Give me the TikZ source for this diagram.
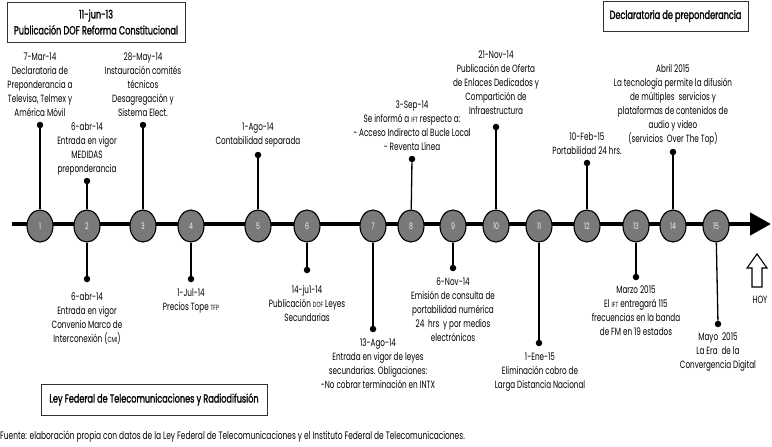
\documentclass[tikz,border=0pt]{standalone}
\usepackage{fontspec}
\setmainfont{Poppins}[FakeStretch=0.69]
\newfontfamily\boxfont{Poppins}[FakeStretch=0.69,FakeBold=1.2]
\usetikzlibrary{arrows.meta,shapes.geometric}
\newcommand{\sm}[1]{{\fontsize{7.5}{9}\selectfont #1}}
\tikzset{
  lbl/.style={font=\fontsize{10.5}{14}\selectfont, align=center, inner sep=0pt},
  circ/.style={ellipse, draw=black, line width=1.1pt, fill=gray!95!black, minimum width=26pt, minimum height=32pt, inner sep=0pt, text=white!90!gray, font=\fontsize{9}{10}\selectfont},
  vline/.style={line width=1.3pt},
  dotnode/.style={circle, fill=black, inner sep=0pt, minimum size=6.5pt},
  titlebox/.style={draw=black!80, line width=0.9pt, inner sep=0pt, align=center, font=\boxfont\fontsize{11.8}{16}\selectfont},
}
\begin{document}
\begin{tikzpicture}[x=1pt,y=-1pt]
\useasboundingbox (0,0) rectangle (772,447);
% boxes
\node[titlebox, minimum width=178pt, minimum height=40pt] (b1) at (96,22) {11-jun-13\\Publicación DOF Reforma Constitucional};
\node[titlebox, minimum width=145pt, minimum height=30pt] (b2) at (675.5,16) {Declaratoria de preponderancia};
\node[titlebox, minimum width=226pt, minimum height=31pt] (b3) at (154,399.5) {Ley Federal de Telecomunicaciones y Radiodifusión};
% timeline
\coordinate (tl0) at (12,224);
\coordinate (tl1) at (771,224);
\draw[line width=4.5pt, -{Triangle[length=21pt,width=22pt]}] (tl0) -- (tl1);
% circles
\foreach \n/\x in {1/40,2/87,3/143,4/191,5/258,6/307,7/373,8/411,9/453,10/496,11/539,12/587,13/636,14/673,15/716}
  \node[circ] (c\n) at (\x,226) {\n};
% top items
\node[dotnode] (t1) at (40,125) {};
\node[dotnode] (t2) at (87,181) {};
\node[dotnode] (t3) at (143,125) {};
\node[dotnode] (t5) at (258,155) {};
\node[dotnode] (t8) at (412,159) {};
\node[dotnode] (t10) at (496,127) {};
\node[dotnode] (t12) at (587,163) {};
\node[dotnode] (t14) at (673,152) {};
\foreach \n in {1,2,3,5,8,10,12,14} \draw[vline] (t\n) -- (c\n);
\node[lbl, anchor=north] (l1) at (40,53) {7-Mar-14\\Declaratoria de\\Preponderancia a\\Televisa, Telmex y\\América Móvil};
\node[lbl, anchor=north] (l2) at (87,123) {6-abr-14\\Entrada en vigor\\MEDIDAS\\preponderancia};
\node[lbl, anchor=north] (l3) at (143,53) {28-May-14\\Instauración comités\\técnicos\\Desagregación y\\Sistema Elect.};
\node[lbl, anchor=north] (l5) at (258,123) {1-Ago-14\\Contabilidad separada};
\node[lbl, anchor=north] (l8) at (412,101) {3-Sep-14\\Se informó a \sm{IFT} respecto a:\\- Acceso Indirecto al Bucle Local\\- Reventa Línea};
\node[lbl, anchor=north] (l10) at (496,51) {21-Nov-14\\Publicación de Oferta\\de Enlaces Dedicados y\\Compartición de\\Infraestructura};
\node[lbl, anchor=north] (l12) at (587,133) {10-Feb-15\\Portabilidad 24 hrs.};
\node[lbl, anchor=north] (l14) at (673,64) {Abril 2015\\La tecnología permite la difusión\\de múltiples\ \ servicios y\\plataformas de contenidos de\\audio y video\\(servicios\ \ Over The Top)};
% bottom items
\node[dotnode] (u2) at (87,279) {};
\node[dotnode] (u4) at (191,279) {};
\node[dotnode] (u6) at (307,270) {};
\node[dotnode] (u7) at (373,329) {};
\node[dotnode] (u9) at (453,268) {};
\node[dotnode] (u11) at (539,343) {};
\node[dotnode] (u13) at (636,277) {};
\node[dotnode] (u15) at (718,324) {};
\foreach \n in {2,4,6,7,9,11,13,15} \draw[vline] (c\n) -- (u\n);
\node[lbl, anchor=north] (m2) at (87,293) {6-abr-14\\Entrada en vigor\\Convenio Marco de\\Interconexión (\sm{CMI})};
\node[lbl, anchor=north] (m4) at (191,289) {1-Jul-14\\Precios Tope \sm{TFP}};
\node[lbl, anchor=north] (m6) at (307,285) {14-ju1-14\\Publicación \sm{DOF} Leyes\\Secundarias};
\node[lbl, anchor=north] (m7) at (378,339) {13-Ago-14\\Entrada en vigor de leyes\\secundarias. Obligaciones:\\-No cobrar terminación en INTX};
\node[lbl, anchor=north] (m9) at (453,278) {6-Nov-14\\Emisión de consulta de\\portabilidad numérica\\24\ \ hrs\ \ y por medios\\electrónicos};
\node[lbl, anchor=north] (m11) at (540,353) {1-Ene-15\\Eliminación cobro de\\Larga Distancia Nacional};
\node[lbl, anchor=north] (m13) at (636,286) {Marzo 2015\\El \sm{IFT} entregará 115\\frecuencias en la banda\\de FM en 19 estados};
\node[lbl, anchor=north] (m15) at (718,333) {Mayo\ \ 2015\\La Era\ \ de la\\Convergencia Digital};
% HOY arrow
\draw[line width=1.1pt, fill=white] (757,254) -- (767,268) -- (762,268) -- (762,287) -- (752,287) -- (752,268) -- (747,268) -- cycle;
\node[lbl] (hoy) at (760,300) {HOY};
% footer
\node[lbl, anchor=west, font=\fontsize{10.8}{13}\selectfont] (src) at (0,437) {Fuente: elaboración propia con datos de la Ley Federal de Telecomunicaciones y el Instituto Federal de Telecomunicaciones.};
\end{tikzpicture}
\end{document}
